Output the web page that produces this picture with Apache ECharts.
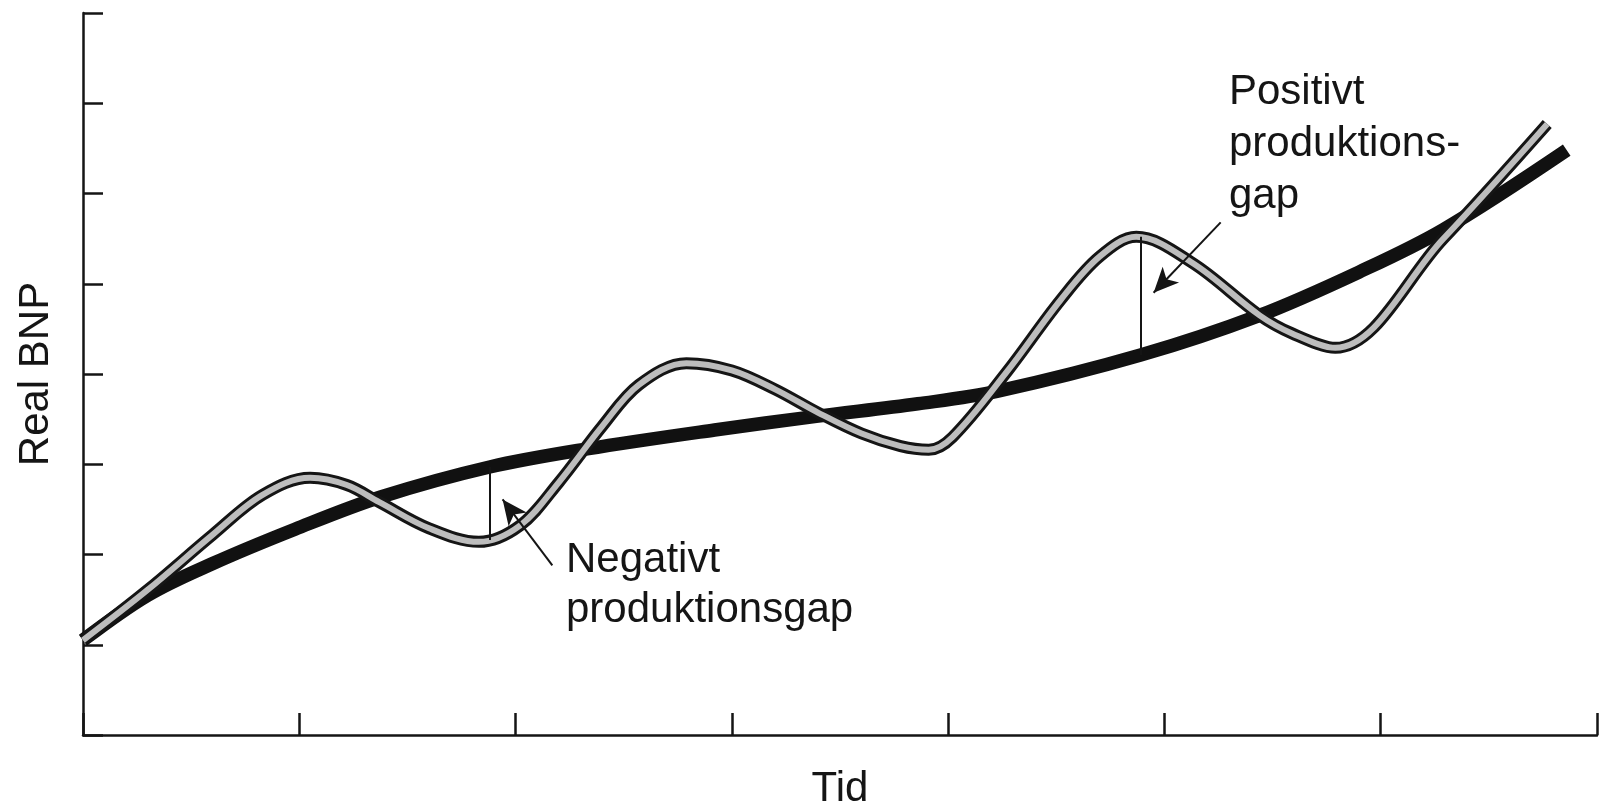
<!DOCTYPE html>
<html>
<head>
<meta charset="utf-8">
<script src="https://cdn.jsdelivr.net/npm/echarts@6/dist/echarts.min.js"></script>
<style>
html,body{margin:0;padding:0;background:#fff;}
#c{width:1599px;height:804px;}
</style>
</head>
<body>
<div id="c"></div>
<script>
// ---- data ----
const trendX  = [0, 0.30, 0.60, 0.98, 1.38, 1.88, 2.33, 2.92, 3.39, 3.86, 4.23, 4.89, 5.44, 5.90, 6.29, 6.86];
const trendY  = [1.05, 1.55, 1.90, 2.28, 2.64, 2.97, 3.17, 3.38, 3.53, 3.67, 3.81, 4.21, 4.65, 5.13, 5.60, 6.48];
const actualX = [0, 0.30, 0.60, 0.83, 1.05, 1.22, 1.37, 1.60, 1.83, 2.02, 2.20, 2.40, 2.57, 2.79, 3.00, 3.20, 3.40, 3.60, 3.78, 3.91, 4.02, 4.27, 4.52, 4.70, 4.87, 5.13, 5.44, 5.59, 5.79, 6.29, 6.77];
const actualY = [1.05, 1.61, 2.22, 2.66, 2.85, 2.77, 2.58, 2.29, 2.14, 2.32, 2.80, 3.42, 3.88, 4.12, 4.04, 3.83, 3.57, 3.34, 3.20, 3.16, 3.30, 4.02, 4.82, 5.30, 5.52, 5.23, 4.65, 4.45, 4.29, 5.50, 6.77];
const xMin = 0, xMax = 7, xStep = 1;
const yMin = 0, yMax = 8, yStep = 1;
const xName = 'Tid';
const yName = 'Real BNP';
// annotation anchors (data space)
const negGap   = {x: 1.88, from: 2.16, to: 2.97};
const posGap   = {x: 4.89, from: 5.52, to: 4.21};
const negArrow = {from: [2.17, 1.88], to: [1.94, 2.61]};
const posArrow = {from: [5.26, 5.68], to: [4.95, 4.90]};
const negText = 'Negativt\nproduktionsgap';
const posText = 'Positivt\nproduktions-\ngap';

const zip = (xs, ys) => xs.map((x, i) => [x, ys[i]]);
const FONT = '"Liberation Sans", Arial, sans-serif';
const INK = '#151515';
const SMOOTH = 0.35;

const chart = echarts.init(document.getElementById('c'), null, {renderer: 'canvas'});
chart.setOption({
  animation: false,
  backgroundColor: '#ffffff',
  grid: {left: 83, right: 2, top: 13, bottom: 69, containLabel: false, outerBoundsMode: 'none'},
  xAxis: {
    type: 'value', min: xMin, max: xMax, interval: xStep,
    name: xName, nameLocation: 'middle', nameGap: 33,
    nameTextStyle: {fontFamily: FONT, fontSize: 42, color: INK},
    axisLine: {show: true, onZero: false, lineStyle: {color: INK, width: 2.5}},
    axisTick: {show: true, inside: true, length: 22, lineStyle: {color: INK, width: 2.5}},
    axisLabel: {show: false},
    splitLine: {show: false}
  },
  yAxis: {
    type: 'value', min: yMin, max: yMax, interval: yStep,
    name: yName, nameLocation: 'middle', nameGap: 26,
    nameTextStyle: {fontFamily: FONT, fontSize: 42, color: INK},
    axisLine: {show: true, onZero: false, lineStyle: {color: INK, width: 2.5}},
    axisTick: {show: true, inside: true, length: 20, lineStyle: {color: INK, width: 2.5}},
    axisLabel: {show: false},
    splitLine: {show: false}
  },
  series: [
    {
      name: 'trend', type: 'line', data: zip(trendX, trendY),
      smooth: SMOOTH, showSymbol: false, silent: true,
      lineStyle: {color: '#111111', width: 13.5, cap: 'butt'},
      markLine: {
        silent: true, animation: false,
        label: {show: false},
        lineStyle: {color: INK, width: 2, type: 'solid'},
        symbol: ['none', 'none'],
        data: [
          [{coord: [negGap.x, negGap.from], symbol: 'none'}, {coord: [negGap.x, negGap.to], symbol: 'none'}],
          [{coord: [posGap.x, posGap.from], symbol: 'none'}, {coord: [posGap.x, posGap.to], symbol: 'none'}],
          [{coord: negArrow.from, symbol: 'none'}, {coord: negArrow.to, symbol: 'arrow', symbolSize: [17, 25]}],
          [{coord: posArrow.from, symbol: 'none'}, {coord: posArrow.to, symbol: 'arrow', symbolSize: [17, 25]}]
        ]
      }
    },
    {
      name: 'actual-outline', type: 'line', data: zip(actualX, actualY),
      smooth: SMOOTH, showSymbol: false, silent: true,
      lineStyle: {color: '#151515', width: 12, cap: 'butt'}
    },
    {
      name: 'actual', type: 'line', data: zip(actualX, actualY),
      smooth: SMOOTH, showSymbol: false, silent: true,
      lineStyle: {color: '#bdbdbd', width: 6, cap: 'butt'}
    }
  ],
  graphic: [
    {type: 'text', left: 566, top: 535, silent: true,
     style: {text: negText, font: '42px ' + FONT, lineHeight: 50, fill: INK}},
    {type: 'text', left: 1229, top: 66, silent: true,
     style: {text: posText, font: '42px ' + FONT, lineHeight: 52, fill: INK}}
  ]
});
</script>
</body>
</html>
